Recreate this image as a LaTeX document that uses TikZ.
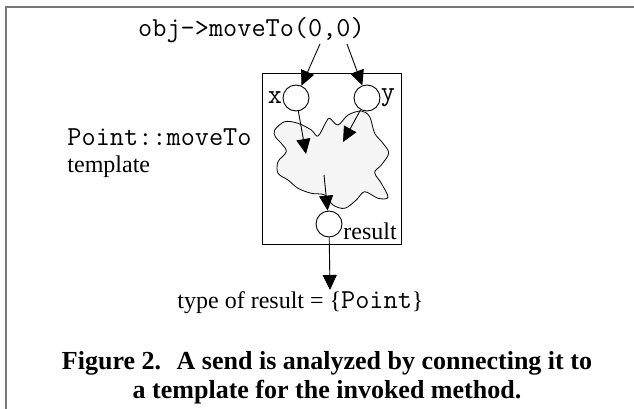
\documentclass[tikz,border=0pt]{standalone}
\usepackage{fontspec}
\setmainfont{Liberation Serif}
\usetikzlibrary{arrows.meta}
\definecolor{framegray}{RGB}{120,120,120}
\definecolor{blobfill}{RGB}{245,245,245}
\tikzset{
  port/.style={circle, draw, fill=white, minimum size=26pt, inner sep=0pt},
  flow/.style={draw, line width=0.9pt, -{Triangle[length=15pt,width=14pt]}},
  mono/.style={font=\fontsize{27.5}{30}\selectfont\ttfamily, inner sep=0pt},
  serif/.style={font=\fontsize{24}{28}\selectfont, inner sep=0pt},
  capt/.style={font=\fontsize{26}{29}\selectfont\bfseries, inner sep=0pt},
}
\begin{document}
\begin{tikzpicture}[x=1pt,y=-1pt,line width=0.9pt]
\useasboundingbox (0,0) rectangle (634,409);
\draw[line width=2pt, framegray] (634,7) -- (6,7) -- (6,409);

\node[mono, anchor=base] (call) at (251.5,37) {obj->moveTo(0,0)};
\coordinate (sx) at (320,44);
\coordinate (sy) at (347,44);

\node[draw, minimum width=139pt, minimum height=171pt, inner sep=0pt] (tpl) at (331.5,158.5) {};

\filldraw[fill=blobfill, draw=black, line width=0.8pt]
  plot[smooth cycle, tension=0.55] coordinates {
  (274.7,130) (284.7,121.7) (298,123.3) (311.3,130) (318,136)
  (326.3,121.7) (329.7,118.3) (338,125) (348,115) (361.3,111)
  (369.7,116.7) (374.7,133.3) (383,143.3) (388.7,153.3) (381.3,165)
  (374.7,172.5) (381.3,183.3) (388,197.3) (378,198.3) (364.7,191.7)
  (356.3,200) (344.7,208.3) (333,205) (324.7,195) (311.3,193.3)
  (298,188.3) (288,180) (278,173.3) (278,161.7) (286.3,151.7)
  (281.3,143.3) (275.3,136.7)};

\node[port] (px) at (296,98) {};
\node[port] (py) at (367,98) {};
\node[port] (pr) at (329,224) {};
\node[mono, anchor=east] (lx) at (px.west) {x};
\node[mono, anchor=west] (ly) at (py.east) {y};
\node[serif, anchor=base west] (lr) at (343,239) {result};

\coordinate (t1) at (306,154);
\coordinate (t2) at (343,142);
\coordinate (s3) at (324,175);
\coordinate (t4) at (330,290);

\draw[flow] (sx) -- (px);
\draw[flow] (sy) -- (py);
\draw[flow] (px) -- (t1);
\draw[flow] (py) -- (t2);
\draw[flow] (s3) -- (pr);
\draw[flow] (pr) -- (t4);

\node[mono, anchor=base west] (tn1) at (67,146) {Point::moveTo};
\node[serif, anchor=base west] (tn2) at (67,172) {template};

\node[serif, anchor=base west] (res) at (177,308) {type of result = \{{\fontsize{27.5}{30}\selectfont\ttfamily Point}\}};

\node[capt, anchor=base] (cap1) at (327,369) {Figure 2.\hspace{0.6em}A send is analyzed by connecting it to};
\node[capt, anchor=base] (cap2) at (327,398) {a template for the invoked method.};
\end{tikzpicture}
\end{document}
